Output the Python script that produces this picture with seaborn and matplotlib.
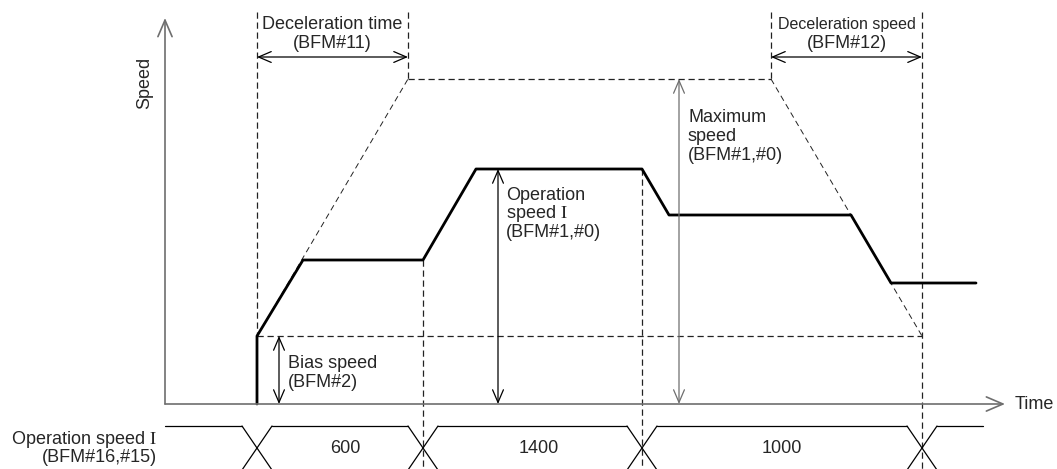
import numpy as np
import pandas as pd
import seaborn as sns
import matplotlib.pyplot as plt

# speed profile (time units, speed units; 0,0 at axis origin)
profile_t = [92, 92, 138, 258, 311, 477, 504, 686, 726, 811]
profile_v = [0, 68, 144, 144, 235, 235, 189, 189, 121, 121]

bias_speed = 68
max_speed = 325
accel_end = 243      # end of deceleration time from start
decel_start = 606    # start of deceleration to bias
decel_end = 757

# operation speed I setting changes (timing row)
change_t = [92, 258, 477, 757]
setting_labels = ['600', '1400', '1000']
setting_label_t = [180, 374, 617]

sns.set_theme(style='white')
plt.rcParams['font.family'] = ['Liberation Sans', 'DejaVu Sans']
plt.rcParams['mathtext.fontset'] = 'stix'

fig = plt.figure(figsize=(10.57, 4.69), dpi=100)
ax = fig.add_axes([0, 0, 1, 1])
ax.set_xlim(-165, 892)
ax.set_ylim(-65, 404)
ax.axis('off')

grey = '#6e6e6e'
dash = dict(color='#222222', lw=0.9, ls=(0, (5, 3)))
fs = 13
roman1 = r'$\mathrm{I}$'


def arrow(x0, y0, x1, y1, style='<->', color='black', scale=13, lw=0.9):
    ax.annotate('', xy=(x1, y1), xytext=(x0, y0),
                arrowprops=dict(arrowstyle=style + ',head_length=0.7,head_width=0.3',
                                color=color, lw=lw, shrinkA=0, shrinkB=0,
                                mutation_scale=scale))


# axes
arrow(0, 0, 0, 386, style='->', color=grey, scale=17, lw=1.2)
arrow(0, 0, 840, 0, style='->', color=grey, scale=17, lw=1.2)
ax.text(-20, 321, 'Speed', rotation=90, ha='center', va='center', fontsize=fs)
ax.text(850, 0, 'Time', ha='left', va='center', fontsize=fs)

# dashed guide lines
ax.plot([profile_t[0], profile_t[0]], [392, bias_speed], **dash)
ax.plot([accel_end, accel_end], [392, max_speed], **dash)
ax.plot([decel_start, decel_start], [392, max_speed], **dash)
ax.plot([decel_end, decel_end], [392, -66], **dash)
ax.plot([change_t[1], change_t[1]], [profile_v[3], -66], **dash)
ax.plot([change_t[2], change_t[2]], [profile_v[5], -66], **dash)
ax.plot([accel_end, decel_start], [max_speed, max_speed], **dash)
ax.plot([profile_t[0], decel_end], [bias_speed, bias_speed], **dash)
ax.plot([profile_t[0], accel_end], [bias_speed, max_speed], color='#222222', lw=0.7, ls=(0, (6, 4)))
ax.plot([decel_start, decel_end], [max_speed, bias_speed], color='#222222', lw=0.7, ls=(0, (6, 4)))

# speed profile
prof = pd.DataFrame({'t': profile_t, 'v': profile_v})
sns.lineplot(data=prof, x='t', y='v', sort=False, estimator=None, color='black', lw=2.0, ax=ax)
ax.axis('off')

# dimension arrows
arrow(profile_t[0], 347, accel_end, 347)
arrow(decel_start, 347, decel_end, 347)
arrow(114, 0, 114, bias_speed)
arrow(333, 0, 333, profile_v[4])
arrow(514, 0, 514, max_speed, color=grey)

# labels
ax.text(167, 380, 'Deceleration time', ha='center', va='center', fontsize=fs)
ax.text(167, 361, '(BFM#11)', ha='center', va='center', fontsize=fs)
ax.text(682, 380, 'Deceleration speed', ha='center', va='center', fontsize=11.5)
ax.text(682, 361, '(BFM#12)', ha='center', va='center', fontsize=fs)
for y, s in zip([287, 268, 249], ['Maximum', 'speed', '(BFM#1,#0)']):
    ax.text(523, y, s, ha='left', va='center', fontsize=fs)
for y, s in zip([209, 191, 172], ['Operation', 'speed ' + roman1, '(BFM#1,#0)']):
    ax.text(341, y, s, ha='left', va='center', fontsize=fs)
for y, s in zip([41, 22], ['Bias speed', '(BFM#2)']):
    ax.text(123, y, s, ha='left', va='center', fontsize=fs)

# timing row
top, bot, hw = -22, -66, 15
edges = [0] + change_t + [818]
for i in range(len(edges) - 1):
    a = edges[i] + (hw if i > 0 else 0)
    b = edges[i + 1] - (hw if i < len(edges) - 2 else 0)
    ax.plot([a, b], [top, top], color='black', lw=0.9)
    ax.plot([a, b], [bot, bot], color='black', lw=0.9)
for c in change_t:
    ax.plot([c - hw, c + hw], [top, bot], color='black', lw=0.9)
    ax.plot([c + hw, c - hw], [top, bot], color='black', lw=0.9)
for t, s in zip(setting_label_t, setting_labels):
    ax.text(t, -44, s, ha='center', va='center', fontsize=fs)
ax.text(-8, -35, 'Operation speed ' + roman1, ha='right', va='center', fontsize=fs)
ax.text(-8, -53, '(BFM#16,#15)', ha='right', va='center', fontsize=fs)

fig.savefig('out.png', dpi=100)
